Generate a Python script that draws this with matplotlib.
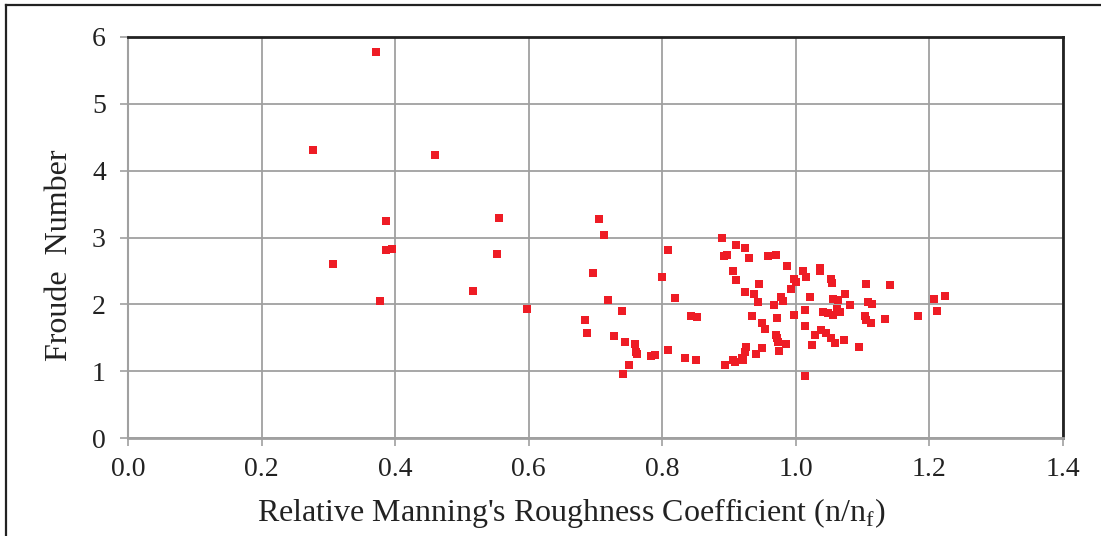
import matplotlib
matplotlib.use("Agg")
import matplotlib.pyplot as plt
from matplotlib.lines import Line2D

# ---- data: relative roughness (n/nf) vs Froude number ----
rel_n = [
    0.372, 0.277, 0.460, 0.386, 0.555, 0.386, 0.396, 0.307, 0.553, 0.517,
    0.378, 0.597,
    0.705, 0.7125, 0.8085, 0.696, 0.7995, 0.718, 0.8185, 0.739, 0.685, 0.688,
    0.8435, 0.8515, 0.7275, 0.7445, 0.7585, 0.761, 0.7625, 0.783, 0.7895,
    0.8085, 0.834, 0.851, 0.7505, 0.7405,
    0.890, 0.911, 0.9235, 0.8925, 0.8965, 0.930, 0.9585, 0.970, 0.9865, 0.906,
    0.910, 0.9455, 0.9965, 1.0005, 0.992, 1.010, 1.0155, 1.036, 1.036, 1.0525,
    1.0535, 0.924, 0.938, 0.944, 0.9785, 0.9805, 0.9675, 1.021, 1.074, 1.056,
    1.0625, 1.081, 1.105, 1.1075, 1.114, 0.9345, 0.9715, 0.997, 1.013, 1.041,
    1.0475, 1.056, 1.062, 1.066, 1.104, 1.105, 1.1125, 0.9495, 0.954, 1.014,
    1.0285, 1.038, 1.045, 1.052, 1.0585, 1.072, 1.094, 0.971, 0.972, 0.9735,
    0.9855, 0.9755, 1.024, 0.950, 0.940, 0.926, 0.924, 0.920, 0.921, 0.906,
    0.9085, 0.8945, 1.013,
    1.1415, 1.134, 1.1825, 1.2065, 1.2235, 1.212,
]
froude = [
    5.775, 4.305, 4.23, 3.245, 3.29, 2.82, 2.835, 2.60, 2.755, 2.195,
    2.05, 1.935,
    3.275, 3.03, 2.82, 2.47, 2.415, 2.06, 2.10, 1.90, 1.77, 1.57,
    1.83, 1.81, 1.53, 1.43, 1.40, 1.285, 1.25, 1.225, 1.24,
    1.315, 1.19, 1.16, 1.095, 0.96,
    2.99, 2.885, 2.85, 2.72, 2.745, 2.70, 2.73, 2.74, 2.575, 2.495,
    2.36, 2.305, 2.385, 2.34, 2.235, 2.495, 2.405, 2.54, 2.495, 2.38,
    2.32, 2.185, 2.15, 2.03, 2.11, 2.055, 1.985, 2.11, 2.16, 2.08,
    2.07, 1.995, 2.30, 2.04, 2.01, 1.83, 1.795, 1.835, 1.92, 1.89,
    1.87, 1.84, 1.935, 1.89, 1.83, 1.76, 1.72, 1.715, 1.625, 1.68,
    1.545, 1.61, 1.565, 1.49, 1.42, 1.46, 1.36, 1.545, 1.495, 1.435,
    1.40, 1.305, 1.385, 1.35, 1.26, 1.355, 1.285, 1.19, 1.17, 1.16,
    1.135, 1.09, 0.935,
    2.295, 1.785, 1.825, 2.075, 2.12, 1.905,
]

x_ticks = [0.0, 0.2, 0.4, 0.6, 0.8, 1.0, 1.2, 1.4]
y_ticks = [0, 1, 2, 3, 4, 5, 6]

plt.rcParams["font.family"] = ["Liberation Serif", "DejaVu Serif"]
plt.rcParams["mathtext.fontset"] = "custom"
plt.rcParams["mathtext.rm"] = "Liberation Serif"

GRID = "#a0a0a0"

fig = plt.figure(figsize=(11.01, 5.36), dpi=100)
ax = fig.add_axes([128 / 1101, 1 - 438 / 536, 935 / 1101, 401 / 536])

ax.scatter(rel_n, froude, marker="s", s=26, color="#ee1c25",
           linewidths=0, zorder=3)

ax.set_xlim(0, 1.4)
ax.set_ylim(0, 6)
ax.set_xticks(x_ticks)
ax.set_xticklabels([f"{v:.1f}" for v in x_ticks])
ax.set_yticks(y_ticks)
ax.set_yticklabels([str(v) for v in y_ticks])

ax.grid(True, color=GRID, linewidth=1.3)
ax.set_axisbelow(True)

ax.tick_params(axis="both", direction="out", length=6, width=1.2,
               color=GRID, labelsize=20, labelcolor="#222222")
ax.tick_params(axis="x", pad=8)
ax.tick_params(axis="y", pad=10)

ax.spines["left"].set_color(GRID)
ax.spines["bottom"].set_color(GRID)
ax.spines["left"].set_linewidth(1.5)
ax.spines["bottom"].set_linewidth(2)
ax.spines["top"].set_color("#222222")
ax.spines["right"].set_color("#222222")
ax.spines["top"].set_linewidth(2)
ax.spines["right"].set_linewidth(2)

ax.set_xlabel("Relative Manning's Roughness Coefficient (n/n$_\\mathrm{f}$)",
              fontsize=23, color="#222222")
ax.xaxis.set_label_coords(0.474, -0.145)
ax.set_ylabel("Froude  Number", fontsize=23, color="#222222")
ax.yaxis.set_label_coords(-0.058, 0.455)

# frame lines on the left and top of the figure
fig.add_artist(Line2D([6.5 / 1101, 6.5 / 1101], [0, 1 - 5 / 536],
                      transform=fig.transFigure, color="#222222", linewidth=1.6))
fig.add_artist(Line2D([6.5 / 1101, 1], [1 - 5 / 536, 1 - 5 / 536],
                      transform=fig.transFigure, color="#222222", linewidth=1.6))

fig.savefig("out.png", dpi=100)
